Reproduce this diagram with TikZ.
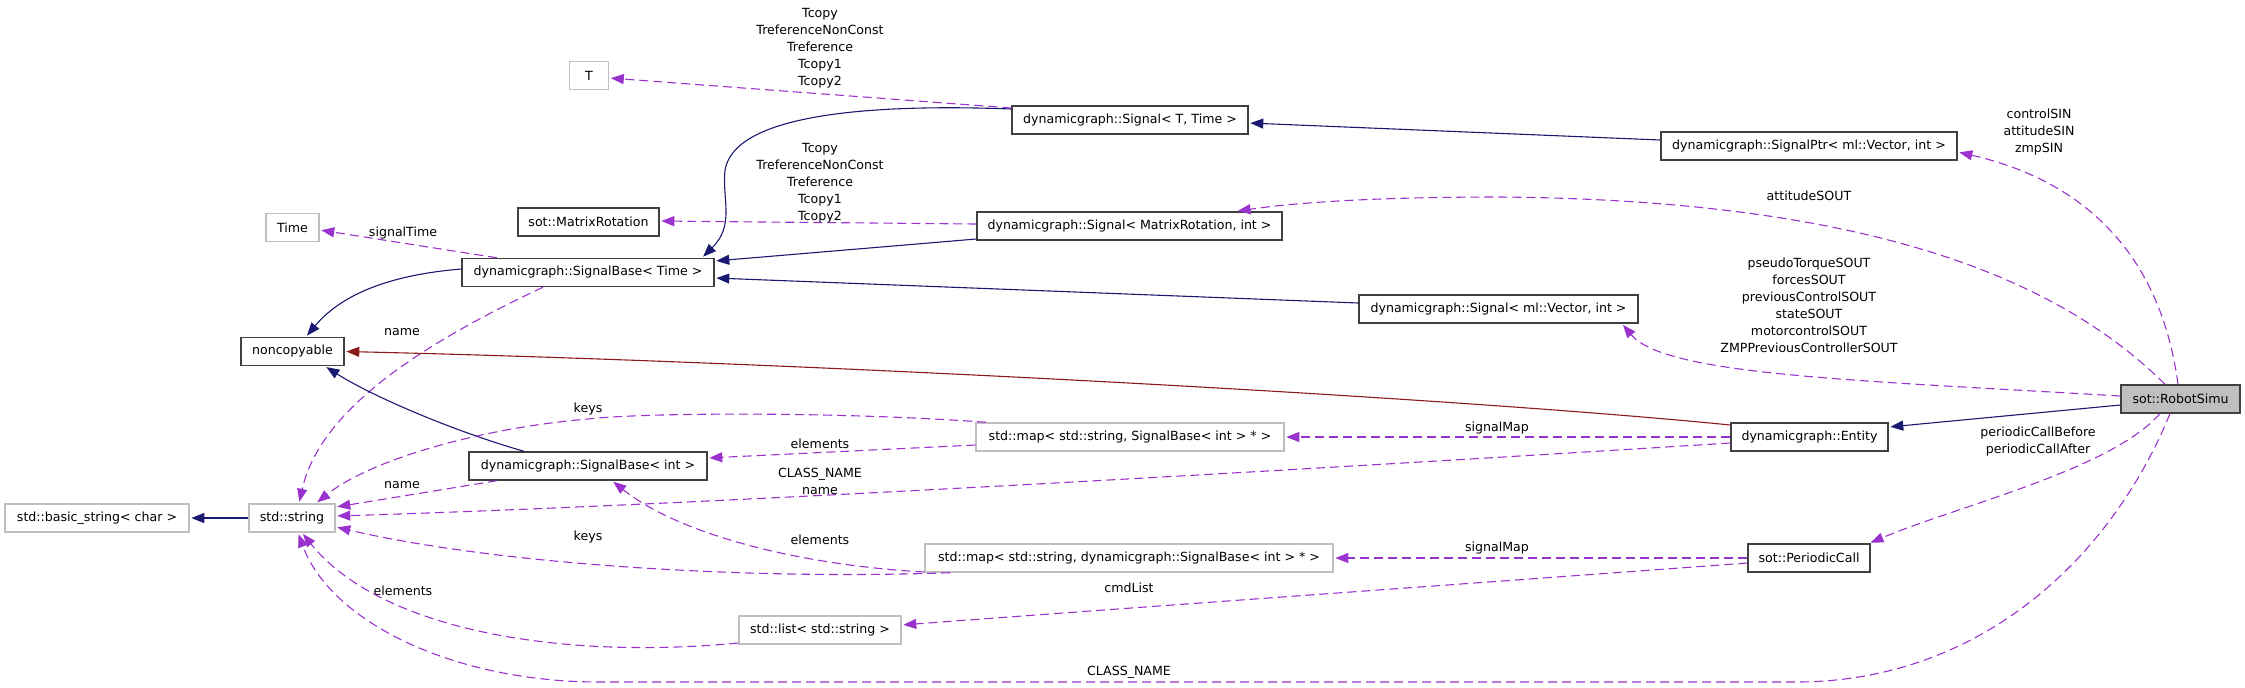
\documentclass[tikz,border=0pt]{standalone}
\usepackage{fontspec}
\setmainfont{DejaVu Sans}
\usetikzlibrary{arrows.meta}
\definecolor{usecol}{HTML}{9A32CD}
\definecolor{inhcol}{HTML}{191970}
\definecolor{privcol}{HTML}{8B1A1A}
\definecolor{greyline}{HTML}{BFBFBF}
\definecolor{boxline}{HTML}{404040}
\definecolor{selfill}{HTML}{BFBFBF}
\tikzset{
  lbl/.style={font=\fontsize{6.3}{8.5}\selectfont, inner sep=0pt, align=center},
  cls/.style={draw=boxline, line width=0.7pt, fill=white, minimum height=14pt, inner sep=0pt, font=\fontsize{6.3}{8.5}\selectfont, minimum width=#1*0.5pt},
  ext/.style={draw=greyline, line width=0.7pt, fill=white, minimum height=14pt, inner sep=0pt, font=\fontsize{6.3}{8.5}\selectfont, minimum width=#1*0.5pt},
  usage/.style={draw=usecol, line width=0.55pt, dash pattern=on 4.5pt off 2.5pt, -{Triangle[length=6.5pt,width=5pt]}, shorten >=0.8pt},
  inh/.style={draw=inhcol, line width=0.55pt, -{Triangle[length=6.5pt,width=5pt]}, shorten >=0.8pt},
  priv/.style={draw=privcol, line width=0.55pt, -{Triangle[length=6.5pt,width=5pt]}, shorten >=0.8pt},
}
\begin{document}
\begin{tikzpicture}[x=0.5pt, y=-0.5pt]
\useasboundingbox (0,0) rectangle (2245,687);
% nodes
\node[ext=39] (T) at (589,75.5) {T};
\node[ext=53] (Time) at (292.5,227.5) {Time};
\node[cls=141] (mr) at (588.5,222) {sot::MatrixRotation};
\node[cls=252] (sbt) at (588,272.5) {dynamicgraph::SignalBase< Time >};
\node[cls=103] (nc) at (292.5,351.5) {noncopyable};
\node[cls=236] (sTT) at (1130,120) {dynamicgraph::Signal< T, Time >};
\node[cls=305] (sMR) at (1129.5,226) {dynamicgraph::Signal< MatrixRotation, int >};
\node[cls=279] (sVec) at (1498.5,309) {dynamicgraph::Signal< ml::Vector, int >};
\node[cls=296] (sptr) at (1809,146) {dynamicgraph::SignalPtr< ml::Vector, int >};
\node[ext=184] (bs) at (97,518) {std::basic\_string< char >};
\node[ext=86] (str) at (292,518) {std::string};
\node[cls=238] (sbi) at (588,466) {dynamicgraph::SignalBase< int >};
\node[ext=308] (m1) at (1130,437) {std::map< std::string, SignalBase< int > * >};
\node[ext=408] (m2) at (1129,558) {std::map< std::string, dynamicgraph::SignalBase< int > * >};
\node[ext=162] (lst) at (820,630) {std::list< std::string >};
\node[cls=157] (Ent) at (1809.5,437) {dynamicgraph::Entity};
\node[cls=122] (pc) at (1809,558) {sot::PeriodicCall};
\node[cls=119, fill=selfill] (rs) at (2180.5,399) {sot::RobotSimu};
% labels
\node[lbl] (l1) at (820,48) {Tcopy\\TreferenceNonConst\\Treference\\Tcopy1\\Tcopy2};
\node[lbl] (l2) at (820,183) {Tcopy\\TreferenceNonConst\\Treference\\Tcopy1\\Tcopy2};
\node[lbl] (l3) at (403,233) {signalTime};
\node[lbl] (l4) at (402,332) {name};
\node[lbl] (l5) at (588,409) {keys};
\node[lbl] (l6) at (402,485) {name};
\node[lbl] (l7) at (588,537) {keys};
\node[lbl] (l8) at (403,591) {elements};
\node[lbl] (l9) at (820,444) {elements};
\node[lbl] (l10) at (820,481.5) {CLASS\_NAME\\name};
\node[lbl] (l11) at (820,540) {elements};
\node[lbl] (l12) at (1129,588) {cmdList};
\node[lbl] (l13) at (1129,672) {CLASS\_NAME};
\node[lbl] (l14) at (1497,428) {signalMap};
\node[lbl] (l15) at (1497,548) {signalMap};
\node[lbl] (l16) at (2038,442) {periodicCallBefore\\periodicCallAfter};
\node[lbl] (l17) at (2039,132) {controlSIN\\attitudeSIN\\zmpSIN};
\node[lbl] (l18) at (1809,196) {attitudeSOUT};
\node[lbl] (l19) at (1809,305.5) {pseudoTorqueSOUT\\forcesSOUT\\previousControlSOUT\\stateSOUT\\motorcontrolSOUT\\ZMPPreviousControllerSOUT};
% edges
\draw[usage] ([shift={(0,-12)}]sTT.west) -- ([shift={(0,2.5)}]T.east);
\draw[inh] ([shift={(0,-11)}]sTT.west) .. controls (880,104) and (735,112) .. (725,170) .. controls (722,200) and (735,225) .. ([shift={(114,0)}]sbt.north);
\draw[inh] ([shift={(0,13)}]sMR.west) -- ([shift={(0,-11.5)}]sbt.east);
\draw[usage] ([shift={(0,-2)}]sMR.west) -- ([shift={(0,-1)}]mr.east);
\draw[inh] ([shift={(0,-6)}]sVec.west) -- ([shift={(0,5.5)}]sbt.east);
\draw[inh] ([shift={(0,-6)}]sptr.west) -- ([shift={(0,3)}]sTT.east);
\draw[usage] ([shift={(-91,0)}]sbt.north) -- ([shift={(0,2.5)}]Time.east);
\draw[inh] ([shift={(0,-3.5)}]sbt.west) .. controls (400,274) and (345,290) .. ([shift={(13.5,0)}]nc.north);
\draw[usage] ([shift={(-45,0)}]sbt.south) .. controls (420,345) and (320,410) .. ([shift={(7,0)}]str.north);
\draw[priv] ([shift={(0,-12)}]Ent.west) .. controls (1450,397) and (800,362) .. (nc.east);
\draw[inh] ([shift={(-64,0)}]sbi.north) .. controls (450,430) and (370,395) .. ([shift={(32.5,0)}]nc.south);
\draw[usage] ([shift={(-91,0)}]sbi.south) -- ([shift={(0,-11)}]str.east);
\draw[usage] ([shift={(-144,0)}]m1.north) .. controls (850,412) and (650,412) .. (588,419) .. controls (480,428) and (370,460) .. ([shift={(24,0)}]str.north);
\draw[usage] ([shift={(0,8)}]m1.west) -- ([shift={(0,-8)}]sbi.east);
\draw[usage] (Ent.west) -- (m1.east);
\draw[usage] ([shift={(0,6)}]Ent.west) .. controls (1300,470) and (700,505) .. ([shift={(0,-2)}]str.east);
\draw[usage] ([shift={(-179,0)}]m2.south) .. controls (750,580) and (500,565) .. ([shift={(0,9)}]str.east);
\draw[usage] ([shift={(0,14)}]m2.west) .. controls (800,565) and (680,535) .. ([shift={(24,0)}]sbi.south);
\draw[usage] (pc.west) -- (m2.east);
\draw[usage] ([shift={(0,5)}]pc.west) .. controls (1450,585) and (1100,610) .. ([shift={(0,-5)}]lst.east);
\draw[usage] ([shift={(0,13)}]lst.west) .. controls (560,660) and (380,630) .. ([shift={(10,0)}]str.south);
\draw[usage] ([shift={(-10.5,0)}]rs.south) .. controls (2110,560) and (1980,680) .. (1800,682) -- (600,682) .. controls (450,682) and (330,620) .. ([shift={(6,0)}]str.south);
\draw[inh] ([shift={(0,6)}]rs.west) -- ([shift={(0,-10)}]Ent.east);
\draw[usage] ([shift={(-20.5,0)}]rs.south) .. controls (2110,470) and (1960,505) .. ([shift={(60,0)}]pc.north);
\draw[usage] ([shift={(0,-3)}]rs.west) .. controls (1850,380) and (1665,375) .. ([shift={(123.5,0)}]sVec.south);
\draw[usage] ([shift={(-15.5,0)}]rs.north) .. controls (2050,270) and (1850,200) .. (1500,197) .. controls (1380,197) and (1300,202) .. ([shift={(106.5,0)}]sMR.north);
\draw[usage] ([shift={(-2.5,0)}]rs.north) .. controls (2160,250) and (2080,180) .. ([shift={(0,6)}]sptr.east);
\draw[inh] (str.west) -- (bs.east);
\end{tikzpicture}
\end{document}
